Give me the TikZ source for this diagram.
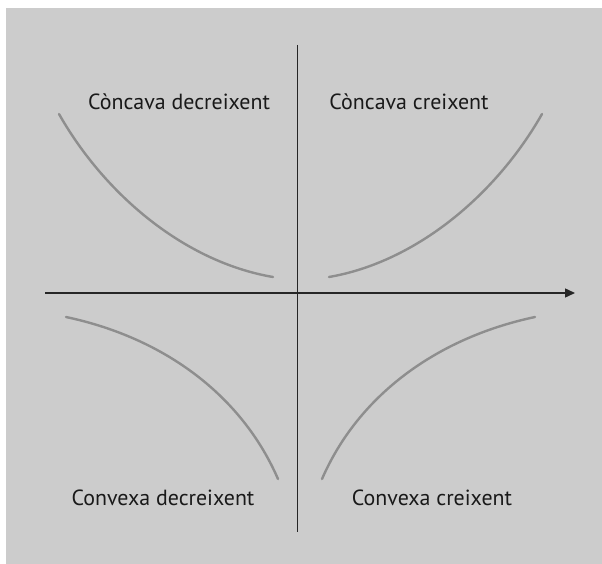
\documentclass[tikz,border=0pt]{standalone}
\usepackage{fontspec}
\setmainfont{PT Sans}
\usetikzlibrary{arrows.meta}
\definecolor{bg}{HTML}{CCCCCC}
\definecolor{curvegray}{HTML}{8E8E8E}
\tikzset{
  axis/.style={line width=1.4bp, draw=black!85},
  curve/.style={line width=2.4bp, draw=curvegray, line cap=round},
  lbl/.style={font=\fontsize{22}{25}\selectfont, text=black!90, inner sep=0pt}
}
\begin{document}
\begin{tikzpicture}[x=1bp,y=-1bp]
\useasboundingbox (0,0) rectangle (602,564);
\fill[white] (0,0) rectangle (602,564);
\fill[bg] (6,8) rectangle (602,564);
% axes
\coordinate (vt) at (297.5,45);
\coordinate (vb) at (297.5,532);
\coordinate (hl) at (45,293);
\coordinate (hr) at (575,293);
\draw[axis] (vt) -- (vb);
\draw[axis, -{Triangle[length=10bp,width=9bp]}] (hl) -- (hr);
% curves
\coordinate (a0) at (59,114); \coordinate (a1) at (273,277);
\coordinate (b0) at (329,277); \coordinate (b1) at (542,114);
\coordinate (c0) at (66,317); \coordinate (c1) at (278,479);
\coordinate (d0) at (322,479); \coordinate (d1) at (535,317);
\draw[curve] (a0) .. controls (105,195) and (185,262) .. (a1);
\draw[curve] (b0) .. controls (416,262) and (496,195) .. (b1);
\draw[curve] (c0) .. controls (165,338) and (242,396) .. (c1);
\draw[curve] (d0) .. controls (358,396) and (436,338) .. (d1);
% labels
\node[lbl, anchor=base] (l1) at (179,110) {Còncava decreixent};
\node[lbl, anchor=base] (l2) at (409,110) {Còncava creixent};
\node[lbl, anchor=base] (l3) at (163,505) {Convexa decreixent};
\node[lbl, anchor=base] (l4) at (432,505) {Convexa creixent};
\end{tikzpicture}
\end{document}
